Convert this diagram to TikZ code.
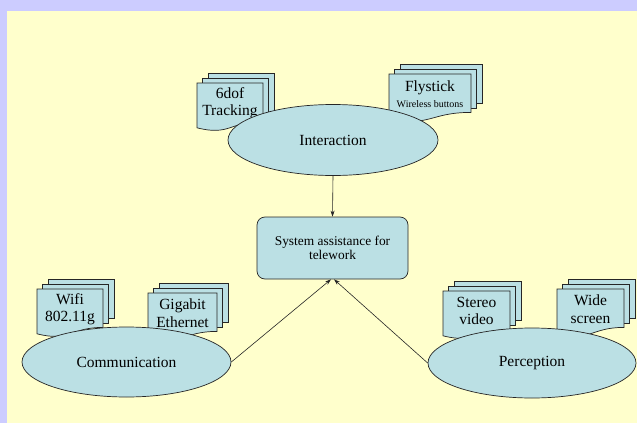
\documentclass[tikz,border=0pt]{standalone}
\usepackage{fontspec}
\setmainfont{Liberation Serif}
\usetikzlibrary{shapes.geometric,arrows.meta}
\definecolor{lavender}{RGB}{204,204,255}
\definecolor{cream}{RGB}{255,255,204}
\definecolor{paleblue}{RGB}{187,224,228}
\tikzset{
  docline/.style={draw=black!85,fill=paleblue,line width=0.7pt},
  doctext/.style={align=center,inner sep=0pt,font=\fontsize{15.5}{17.5}\selectfont},
  topic/.style={ellipse,draw=black!85,fill=paleblue,line width=0.7pt,inner sep=0pt,
    font=\fontsize{15.5}{18}\selectfont},
  goalbox/.style={draw=black!85,fill=paleblue,line width=0.7pt,rounded corners=8pt,
    minimum width=151pt,minimum height=62pt,align=center,inner sep=0pt,
    font=\fontsize{13.4}{14}\selectfont},
  link/.style={draw=black!85,line width=0.6pt,-{Stealth[length=6pt,width=4pt]}}
}
% stack of three pages: name, left, top, width, text
\newcommand\docstack[5]{%
  \foreach \k in {2,1}{
    \filldraw[docline] (#2+\k*5.5,#3-\k*5) rectangle ++(#4,0.82*48);
  }
  \filldraw[docline] (#2,#3) -- ++(#4,0) -- ++(0,38.4)
    .. controls (#2+0.5*#4,#3+38.4) and (#2+0.5*#4,#3+53.2) .. (#2,#3+44.8) -- cycle;
  \node[doctext] (#1) at (#2+0.5*#4,#3+20) {#5};
}
\begin{document}
\begin{tikzpicture}[x=1pt,y=-1pt]
\useasboundingbox (0,0) rectangle (637,423);
\fill[lavender] (0,0) rectangle (637,423);
\fill[cream] (7,11) rectangle (637,423);

\docstack{track}{197}{83}{66}{6dof\\Tracking}
\docstack{fly}{389}{74}{82}{Flystick\\[-2pt]\fontsize{10}{12}\selectfont Wireless buttons}
\docstack{wifi}{37}{289}{66}{Wifi\\802.11g}
\docstack{giga}{148}{293}{69}{Gigabit\\Ethernet}
\docstack{stereo}{443}{291}{67}{Stereo\\video}
\docstack{wide}{557}{289}{67}{Wide\\screen}

\node[topic,minimum width=210pt,minimum height=71pt] (inter) at (333,140) {Interaction};
\node[topic,minimum width=209pt,minimum height=70pt] (comm) at (126.5,362) {Communication};
\node[topic,minimum width=208pt,minimum height=70pt] (perc) at (532,363) {Perception};

\node[goalbox] (goal) at (332.5,248) {System assistance for\\telework};

\draw[link] (inter.south) -- (goal.north);
\draw[link] (comm.east) -- ([xshift=-1.5pt]goal.south);
\draw[link] (perc.west) -- ([xshift=1.5pt]goal.south);
\end{tikzpicture}
\end{document}
